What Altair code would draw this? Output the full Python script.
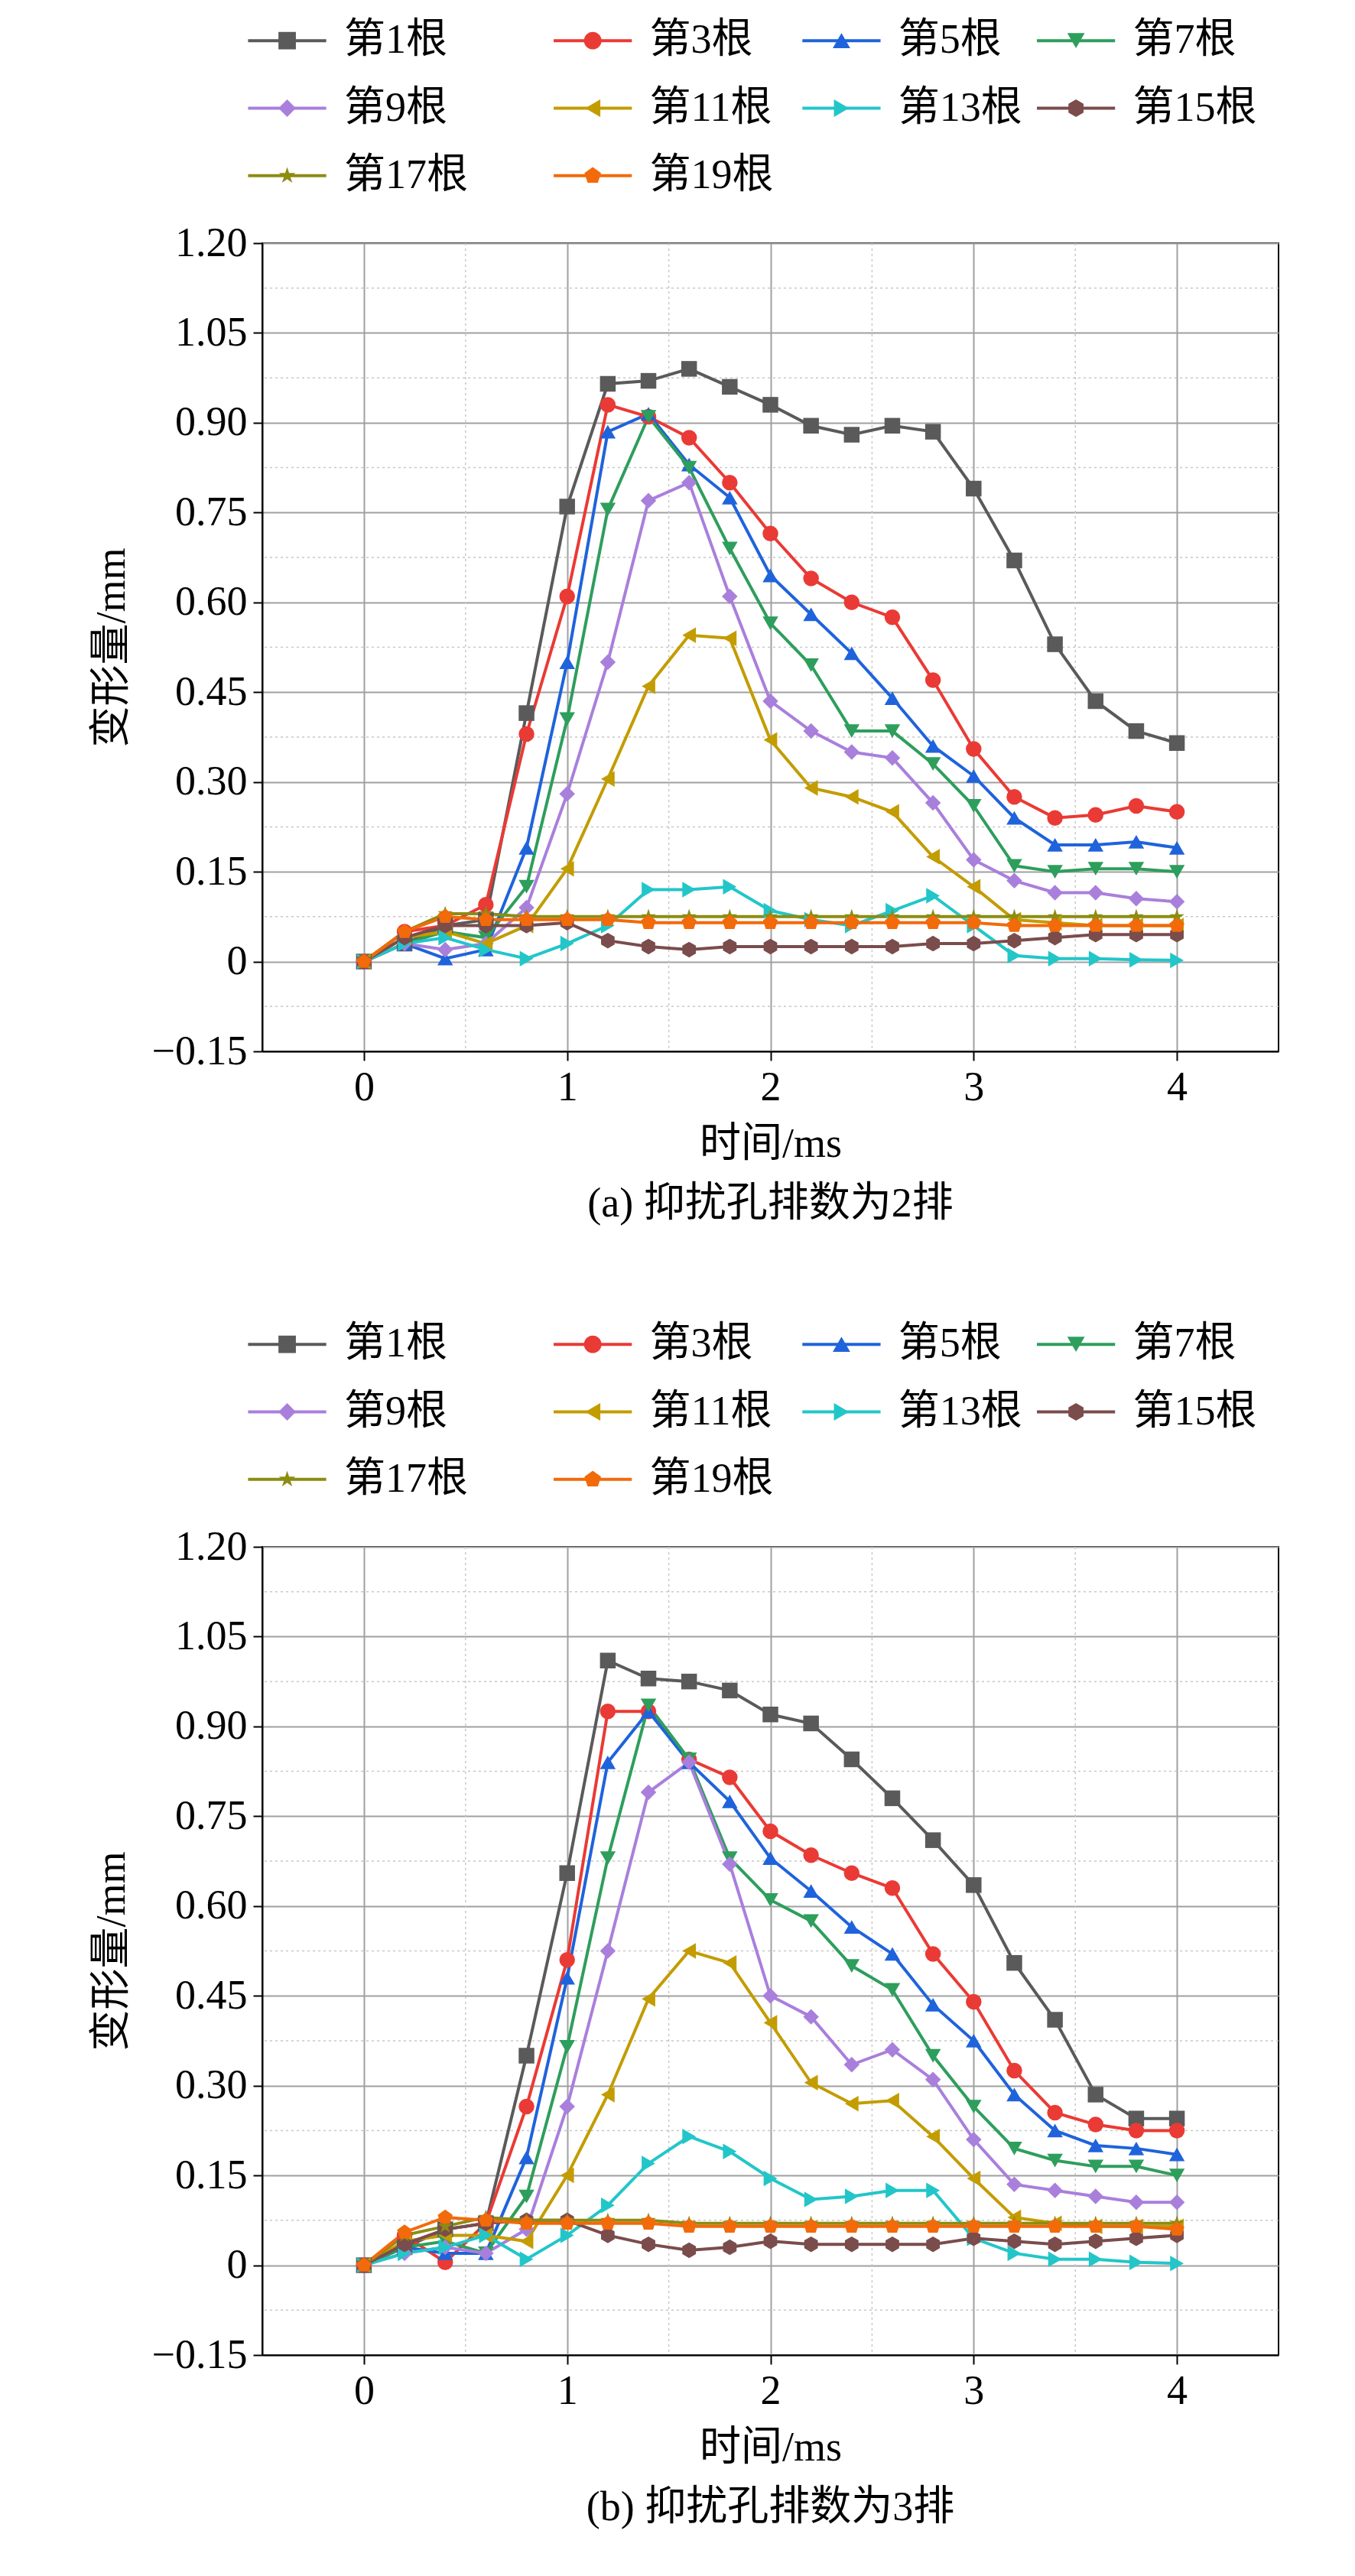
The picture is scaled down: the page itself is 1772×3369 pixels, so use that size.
import altair as alt
import pandas as pd

FONT = 'Liberation Serif, Noto Sans CJK SC'

times = [round(i * 0.2, 1) for i in range(21)]
names = ['第1根', '第3根', '第5根', '第7根', '第9根', '第11根', '第13根', '第15根', '第17根', '第19根']
colors = ['#5a5a5a', '#ea3a35', '#1f63dc', '#2e9e5c', '#a97fdc', '#c39c00', '#22c6c9', '#7b4c4c', '#8c8c12', '#f26a0a']
hexagon = 'M0,-1L0.866,-0.5L0.866,0.5L0,1L-0.866,0.5L-0.866,-0.5Z'
star = 'M0,-1L0.225,-0.31L0.951,-0.309L0.363,0.118L0.588,0.809L0,0.382L-0.588,0.809L-0.363,0.118L-0.951,-0.309L-0.225,-0.31Z'
pentagon = 'M0,-1L0.951,-0.309L0.588,0.809L-0.588,0.809L-0.951,-0.309Z'
shapes = ['square', 'circle', 'triangle-up', 'triangle-down', 'diamond', 'triangle-left', 'triangle-right', hexagon, star, pentagon]

vals_a = [
    [0, 0.03, 0.06, 0.07, 0.415, 0.76, 0.965, 0.97, 0.99, 0.96, 0.93, 0.895, 0.88, 0.895, 0.885, 0.79, 0.67, 0.53, 0.435, 0.385, 0.365],
    [0, 0.05, 0.06, 0.095, 0.38, 0.61, 0.93, 0.91, 0.875, 0.8, 0.715, 0.64, 0.6, 0.575, 0.47, 0.355, 0.275, 0.24, 0.245, 0.26, 0.25],
    [0, 0.03, 0.005, 0.02, 0.19, 0.5, 0.885, 0.915, 0.83, 0.775, 0.645, 0.58, 0.515, 0.44, 0.36, 0.31, 0.24, 0.195, 0.195, 0.2, 0.19],
    [0, 0.03, 0.05, 0.04, 0.125, 0.405, 0.755, 0.91, 0.825, 0.69, 0.565, 0.495, 0.385, 0.385, 0.33, 0.26, 0.16, 0.15, 0.155, 0.155, 0.15],
    [0, 0.03, 0.02, 0.03, 0.09, 0.28, 0.5, 0.77, 0.8, 0.61, 0.435, 0.385, 0.35, 0.34, 0.265, 0.17, 0.135, 0.115, 0.115, 0.105, 0.1],
    [0, 0.04, 0.05, 0.03, 0.06, 0.155, 0.305, 0.46, 0.545, 0.54, 0.37, 0.29, 0.275, 0.25, 0.175, 0.125, 0.07, 0.065, 0.06, 0.06, 0.06],
    [0, 0.03, 0.04, 0.02, 0.005, 0.03, 0.06, 0.12, 0.12, 0.125, 0.085, 0.07, 0.06, 0.085, 0.11, 0.06, 0.01, 0.005, 0.005, 0.003, 0.002],
    [0, 0.04, 0.06, 0.06, 0.06, 0.065, 0.035, 0.025, 0.02, 0.025, 0.025, 0.025, 0.025, 0.025, 0.03, 0.03, 0.035, 0.04, 0.045, 0.045, 0.045],
    [0, 0.05, 0.08, 0.08, 0.075, 0.075, 0.075, 0.075, 0.075, 0.075, 0.075, 0.075, 0.075, 0.075, 0.075, 0.075, 0.075, 0.075, 0.075, 0.075, 0.075],
    [0, 0.05, 0.075, 0.07, 0.07, 0.07, 0.07, 0.065, 0.065, 0.065, 0.065, 0.065, 0.065, 0.065, 0.065, 0.065, 0.06, 0.06, 0.06, 0.06, 0.06],
]
vals_b = [
    [0, 0.03, 0.06, 0.07, 0.35, 0.655, 1.01, 0.98, 0.975, 0.96, 0.92, 0.905, 0.845, 0.78, 0.71, 0.635, 0.505, 0.41, 0.285, 0.245, 0.245],
    [0, 0.05, 0.005, 0.07, 0.265, 0.51, 0.925, 0.925, 0.845, 0.815, 0.725, 0.685, 0.655, 0.63, 0.52, 0.44, 0.325, 0.255, 0.235, 0.225, 0.225],
    [0, 0.03, 0.02, 0.02, 0.18, 0.48, 0.84, 0.925, 0.84, 0.775, 0.68, 0.625, 0.565, 0.52, 0.435, 0.375, 0.285, 0.225, 0.2, 0.195, 0.185],
    [0, 0.03, 0.04, 0.02, 0.115, 0.365, 0.68, 0.935, 0.845, 0.68, 0.61, 0.575, 0.5, 0.46, 0.35, 0.265, 0.195, 0.175, 0.165, 0.165, 0.15],
    [0, 0.02, 0.03, 0.02, 0.06, 0.265, 0.525, 0.79, 0.84, 0.67, 0.45, 0.415, 0.335, 0.36, 0.31, 0.21, 0.135, 0.125, 0.115, 0.105, 0.105],
    [0, 0.04, 0.05, 0.05, 0.04, 0.15, 0.285, 0.445, 0.525, 0.505, 0.405, 0.305, 0.27, 0.275, 0.215, 0.145, 0.08, 0.07, 0.065, 0.065, 0.065],
    [0, 0.02, 0.03, 0.05, 0.01, 0.05, 0.1, 0.17, 0.215, 0.19, 0.145, 0.11, 0.115, 0.125, 0.125, 0.045, 0.02, 0.01, 0.01, 0.005, 0.003],
    [0, 0.035, 0.06, 0.07, 0.075, 0.075, 0.05, 0.035, 0.025, 0.03, 0.04, 0.035, 0.035, 0.035, 0.035, 0.045, 0.04, 0.035, 0.04, 0.045, 0.05],
    [0, 0.05, 0.065, 0.08, 0.075, 0.075, 0.075, 0.075, 0.07, 0.07, 0.07, 0.07, 0.07, 0.07, 0.07, 0.07, 0.07, 0.07, 0.07, 0.07, 0.07],
    [0, 0.055, 0.08, 0.075, 0.07, 0.07, 0.07, 0.07, 0.065, 0.065, 0.065, 0.065, 0.065, 0.065, 0.065, 0.065, 0.065, 0.065, 0.065, 0.065, 0.06],
]

y_major = [round(-0.15 + 0.15 * i, 2) for i in range(10)]
y_minor = [round(-0.075 + 0.15 * i, 3) for i in range(9)]
x_major = [0, 1, 2, 3, 4]
x_minor = [0.5, 1.5, 2.5, 3.5]
legend_col_x = [0, 4.3, 7.8, 11.1]

color_scale = alt.Scale(domain=names, range=colors)
shape_scale = alt.Scale(domain=names, range=shapes)
W, H = 1329, 1057


def legend_chart():
    rows = []
    for i, n in enumerate(names):
        c = legend_col_x[i % 4]
        rows.append({'name': n, 'x0': c, 'x1': c + 1.1, 'xm': c + 0.55, 'xt': c + 1.35, 'r': i // 4})
    ld = pd.DataFrame(rows)
    xs = alt.Scale(domain=[0.2, 14.5])
    ys = alt.Scale(domain=[-0.5, 2.5], reverse=True)
    base = alt.Chart(ld)
    line = base.mark_rule(strokeWidth=4).encode(
        x=alt.X('x0:Q', scale=xs, axis=None), x2='x1:Q',
        y=alt.Y('r:Q', scale=ys, axis=None),
        color=alt.Color('name:N', scale=color_scale, legend=None))
    pts = base.mark_point(filled=True, opacity=1, size=520).encode(
        x=alt.X('xm:Q', scale=xs), y=alt.Y('r:Q', scale=ys),
        color=alt.Color('name:N', scale=color_scale, legend=None),
        shape=alt.Shape('name:N', scale=shape_scale, legend=None))
    txt = base.mark_text(align='left', baseline='middle', font=FONT, fontSize=54).encode(
        x=alt.X('xt:Q', scale=xs), y=alt.Y('r:Q', scale=ys), text='name:N')
    return (line + pts + txt).properties(width=W, height=265, view=alt.ViewConfig(stroke='transparent'))


def plot_chart(vals, caption):
    rows = []
    for n, v in zip(names, vals):
        for t, y in zip(times, v):
            rows.append({'name': n, 't': t, 'v': y})
    df = pd.DataFrame(rows)
    xs = alt.Scale(domain=[-0.5, 4.5], nice=False)
    ys = alt.Scale(domain=[-0.15, 1.2], nice=False)
    ylab = "datum.value == 0 ? '0' : replace(format(datum.value, '.2f'), '-', '\u2212')"
    hg = alt.Chart(pd.DataFrame({'y': y_minor})).mark_rule(
        color='#c8c8c8', strokeDash=[3, 4], strokeWidth=1.5).encode(y=alt.Y('y:Q', scale=ys))
    vg = alt.Chart(pd.DataFrame({'x': x_minor})).mark_rule(
        color='#c8c8c8', strokeDash=[3, 4], strokeWidth=1.5).encode(x=alt.X('x:Q', scale=xs))
    base = alt.Chart(df)
    lines = base.mark_line(strokeWidth=4).encode(
        x=alt.X('t:Q', scale=xs, title='时间/ms',
                axis=alt.Axis(values=x_major, format='d', grid=True, gridColor='#a0a0a0',
                              gridWidth=2, titlePadding=20)),
        y=alt.Y('v:Q', scale=ys, title='变形量/mm',
                axis=alt.Axis(values=y_major, labelExpr=ylab, grid=True, gridColor='#a0a0a0',
                              gridWidth=2, titlePadding=25)),
        color=alt.Color('name:N', scale=color_scale, legend=None),
        detail='name:N')
    pts = base.mark_point(filled=True, opacity=1, size=420).encode(
        x=alt.X('t:Q', scale=xs), y=alt.Y('v:Q', scale=ys),
        color=alt.Color('name:N', scale=color_scale, legend=None),
        shape=alt.Shape('name:N', scale=shape_scale, legend=None))
    return alt.layer(hg, vg, lines, pts).properties(
        width=W, height=H,
        title=alt.TitleParams(caption, orient='bottom', font=FONT, fontSize=54,
                              fontWeight='normal', offset=25))


panel_a = alt.vconcat(legend_chart(), plot_chart(vals_a, '(a) 抑扰孔排数为2排'), spacing=15)
panel_b = alt.vconcat(legend_chart(), plot_chart(vals_b, '(b) 抑扰孔排数为3排'), spacing=15)

chart = alt.vconcat(panel_a, panel_b, spacing=110).properties(
    padding={'left': 110, 'top': 0, 'right': 10, 'bottom': 10}
).configure_view(
    stroke='black', strokeWidth=2
).configure_axis(
    labelFont=FONT, titleFont=FONT, labelFontSize=54, titleFontSize=54,
    titleFontWeight='normal', labelColor='black', titleColor='black',
    domainColor='black', domainWidth=2, tickColor='black', tickWidth=2, tickSize=12,
    labelPadding=8
)

chart.save('out.html', embed_options={'renderer': 'svg', 'actions': False})
